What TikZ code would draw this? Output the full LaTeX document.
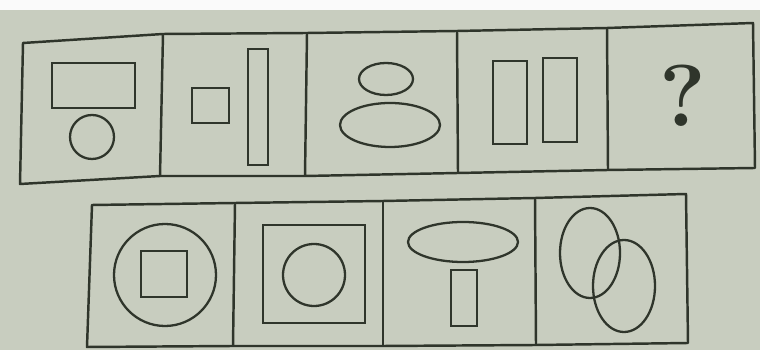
\documentclass[tikz,border=0pt]{standalone}
\usepackage{tikz}
\usetikzlibrary{positioning, calc}
\definecolor{paperGray}{HTML}{C8CDBF}
\definecolor{paperWhite}{HTML}{FAFAFA}
\definecolor{inkDark}{HTML}{2F352B}
\tikzset{
  frameLine/.style={draw=inkDark, line width=1.4pt, line join=round},
  figLine/.style={draw=inkDark, line width=1.3pt},
  qMark/.style={text=inkDark, font=\bfseries\fontsize{50}{54}\selectfont, inner sep=0pt},
}
\begin{document}
\begin{tikzpicture}[x=0.02cm, y=-0.02cm]
    % paper
    \fill[paperGray] (0,0) rectangle (760,350);
    \fill[paperWhite] (0,0) rectangle (760,10);
    \useasboundingbox (0,0) rectangle (760,350);

    % top row frame
    \draw[frameLine] (23,43) -- (163,34) -- (307,33) -- (457,31) -- (607,28) -- (753,23)
      -- (755,168) -- (608,170) -- (458,173) -- (305,176) -- (160,176) -- (20,184) -- cycle;
    \foreach \xa/\ya/\xb/\yb in {163/34/160/176, 307/33/305/176, 457/31/458/173, 607/28/608/170}
      \draw[frameLine] (\xa,\ya) -- (\xb,\yb);

    % cell 1
    \draw[figLine] (52,63) rectangle (135,108);
    \draw[figLine] (92,137) circle (22);
    % cell 2
    \draw[figLine] (192,88) rectangle (229,123);
    \draw[figLine] (248,49) rectangle (268,165);
    % cell 3
    \draw[figLine] (386,79) ellipse (27 and 16);
    \draw[figLine] (390,125) ellipse (50 and 22);
    % cell 4
    \draw[figLine] (493,61) rectangle (527,144);
    \draw[figLine] (543,58) rectangle (577,142);
    % cell 5
    \node[qMark] (qmark) at (683,96) {?};

    % bottom row frame
    \draw[frameLine] (92,205) -- (235,203) -- (383,201) -- (535,198) -- (686,194)
      -- (688,343) -- (536,345) -- (383,346) -- (233,346) -- (87,347) -- cycle;
    \foreach \xa/\ya/\xb/\yb in {235/203/233/346, 383/201/383/346, 535/198/536/345}
      \draw[frameLine] (\xa,\ya) -- (\xb,\yb);

    % option A
    \draw[figLine] (165,275) circle (51);
    \draw[figLine] (141,251) rectangle (187,297);
    % option B
    \draw[figLine] (263,225) rectangle (365,323);
    \draw[figLine] (314,275) circle (31);
    % option C
    \draw[figLine] (463,242) ellipse (55 and 20);
    \draw[figLine] (451,270) rectangle (477,326);
    % option D
    \draw[figLine] (590,253) ellipse (30 and 45);
    \draw[figLine] (624,286) ellipse (31 and 46);
\end{tikzpicture}
\end{document}
